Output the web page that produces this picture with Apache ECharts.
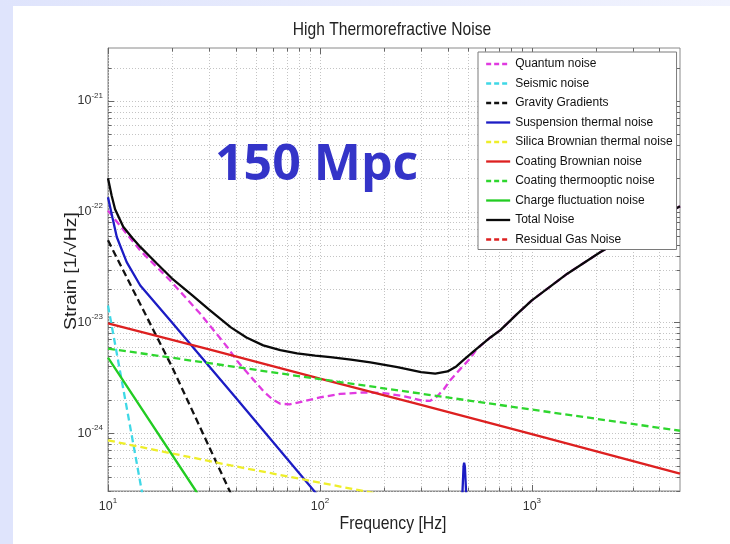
<!DOCTYPE html>
<html><head><meta charset="utf-8">
<script src="https://cdn.jsdelivr.net/npm/echarts@6/dist/echarts.min.js"></script>
<style>html,body{margin:0;padding:0;background:#fff}#c{width:730px;height:544px}</style>
</head><body><div id="c"></div>
<script>
// ---------- data ----------
const seriesNames = ['Quantum noise','Seismic noise','Gravity Gradients','Suspension thermal noise',
  'Silica Brownian thermal noise','Coating Brownian noise','Coating thermooptic noise',
  'Charge fluctuation noise','Total Noise','Residual Gas Noise'];

const quantumFreq   = [10, 12, 14.2, 19.6, 27.2, 36.5, 41, 54, 60, 65, 72, 85, 100, 125, 160, 200, 250, 300, 330, 358, 385, 412, 460, 513, 550, 637, 710, 855, 1000, 1470, 2100, 3250, 5000];
const quantumStrain = [1.02e-22, 6.6e-23, 4.45e-23, 2.4e-23, 1.2e-23, 6.0e-24, 4.4e-24, 2.4e-24, 2.0e-24, 1.84e-24, 1.82e-24, 1.95e-24, 2.1e-24, 2.26e-24, 2.33e-24, 2.3e-24, 2.15e-24, 1.97e-24, 1.95e-24, 2.15e-24, 2.5e-24, 3.0e-24, 3.8e-24, 4.75e-24, 5.75e-24, 7.3e-24, 8.5e-24, 1.2e-23, 1.58e-23, 2.75e-23, 4.3e-23, 7.0e-23, 1.12e-22];

const seismicFreq   = [10, 12.4, 15];
const seismicStrain = [1.42e-23, 1.5e-24, 2.0e-25];

const gravityFreq   = [10, 20, 40];
const gravityStrain = [5.5e-23, 4.0e-24, 2.3e-25];

const suspensionFreq   = [10, 10.5, 11, 12.25, 14.2, 20, 40, 100, 450, 470, 476, 479, 483, 490, 510];
const suspensionStrain = [1.35e-22, 8.8e-23, 5.9e-23, 3.5e-23, 2.15e-23, 1.0e-23, 2.1e-24, 2.6e-25, 1e-26, 2.8e-25, 5.0e-25, 5.4e-25, 5.0e-25, 2.8e-25, 1e-26];

const silicaFreq   = [10, 38, 160, 1000];
const silicaStrain = [8.6e-25, 5.1e-25, 3.0e-25, 1.5e-25];

const coatBrownFreq   = [10, 30, 100, 300, 1000, 5000];
const coatBrownStrain = [9.8e-24, 5.7e-24, 3.1e-24, 1.8e-24, 9.8e-25, 4.3e-25];

const coatThermoFreq   = [10, 100, 1000, 5000];
const coatThermoStrain = [5.8e-24, 3.07e-24, 1.63e-24, 1.05e-24];

const chargeFreq   = [10, 26, 30];
const chargeStrain = [4.8e-24, 3.0e-25, 1.9e-25];

const totalFreq   = [10, 10.4, 10.8, 11.8, 13, 14.2, 17, 20, 25, 30, 38, 45, 54, 65, 78, 95, 112, 140, 173, 232, 300, 350, 400, 440, 475, 550, 637, 710, 855, 1000, 1470, 2100, 3250, 5000];
const totalStrain = [2.0e-22, 1.4e-22, 1.05e-22, 7.3e-23, 5.8e-23, 4.8e-23, 3.4e-23, 2.5e-23, 1.75e-23, 1.3e-23, 9.0e-24, 7.3e-24, 6.2e-24, 5.6e-24, 5.25e-24, 5.0e-24, 4.85e-24, 4.6e-24, 4.35e-24, 3.95e-24, 3.55e-24, 3.45e-24, 3.6e-24, 4.0e-24, 4.55e-24, 5.8e-24, 7.3e-24, 8.5e-24, 1.2e-23, 1.58e-23, 2.75e-23, 4.3e-23, 7.0e-23, 1.12e-22];

const residualGasFreq   = [];
const residualGasStrain = [];

// axis ticks
const xMajorTicks = [10, 100, 1000];
const xMinorTicks = [20, 30, 40, 50, 60, 70, 80, 90, 200, 300, 400, 500, 600, 700, 800, 900, 2000, 3000, 4000];
const yMajorTicks = [1e-24, 1e-23, 1e-22, 1e-21];
const yMinorTicks = [3e-25, 4e-25, 5e-25, 6e-25, 7e-25, 8e-25, 9e-25,
  2e-24, 3e-24, 4e-24, 5e-24, 6e-24, 7e-24, 8e-24, 9e-24,
  2e-23, 3e-23, 4e-23, 5e-23, 6e-23, 7e-23, 8e-23, 9e-23,
  2e-22, 3e-22, 4e-22, 5e-22, 6e-22, 7e-22, 8e-22, 9e-22, 2e-21];

const chartTitle = 'High Thermorefractive Noise';
const annotation = '150 Mpc';
const xName = 'Frequency [Hz]';
const yName = 'Strain [1/\u221AHz]';

// ---------- chart ----------
const FONT = 'Liberation Sans';
const zip = (f, s) => f.map((v, i) => [v, s[i]]);
const styles = [
  {c:'#e03ae0', d:true}, {c:'#3fd8e6', d:true}, {c:'#111111', d:true}, {c:'#1c1cc4', d:false},
  {c:'#eeee2a', d:true}, {c:'#dd2020', d:false}, {c:'#2ed62e', d:true}, {c:'#22cc22', d:false},
  {c:'#0a0a0a', d:false}, {c:'#dd2020', d:true}
];
const dataSets = [
  zip(quantumFreq, quantumStrain), zip(seismicFreq, seismicStrain), zip(gravityFreq, gravityStrain),
  zip(suspensionFreq, suspensionStrain), zip(silicaFreq, silicaStrain), zip(coatBrownFreq, coatBrownStrain),
  zip(coatThermoFreq, coatThermoStrain), zip(chargeFreq, chargeStrain), zip(totalFreq, totalStrain),
  zip(residualGasFreq, residualGasStrain)
];
const lineSeries = seriesNames.map((n, i) => ({
  name: n, type: 'line', data: dataSets[i], symbol: 'none', smooth: false, clip: true, z: 3,
  lineStyle: { color: styles[i].c, width: 2.3, type: styles[i].d ? [7, 4] : 'solid' },
  itemStyle: { color: styles[i].c },
  emphasis: { disabled: true }
}));

const xMin = 10, xMax = 5000, yMin = 3e-25, yMax = 3e-21;
const tickItems = [];
xMajorTicks.forEach(v => tickItems.push([v, 1e-22, 0, 1]));
xMinorTicks.forEach(v => tickItems.push([v, 1e-22, 0, 0]));
yMajorTicks.forEach(v => tickItems.push([100, v, 1, 1]));
yMinorTicks.forEach(v => tickItems.push([100, v, 1, 0]));

const gridSeries = {
  type: 'custom', silent: true, z: 1, data: tickItems,
  renderItem: function (params, api) {
    const cs = params.coordSys;
    const p = api.coord([api.value(0), api.value(1)]);
    const vertical = api.value(2) === 0;
    const len = api.value(3) === 1 ? 6 : 3.5;
    const gs = { stroke: '#c4c4c4', lineWidth: 1, lineDash: [1, 2] };
    const ts = { stroke: '#666', lineWidth: 1 };
    if (vertical) {
      const x = Math.round(p[0]) + 0.5, t = cs.y, b = cs.y + cs.height;
      return { type: 'group', children: [
        { type: 'line', shape: { x1: x, y1: t, x2: x, y2: b }, style: gs },
        { type: 'line', shape: { x1: x, y1: b, x2: x, y2: b - len }, style: ts },
        { type: 'line', shape: { x1: x, y1: t, x2: x, y2: t + len }, style: ts }
      ]};
    } else {
      const y = Math.round(p[1]) + 0.5, l = cs.x, r = cs.x + cs.width;
      return { type: 'group', children: [
        { type: 'line', shape: { x1: l, y1: y, x2: r, y2: y }, style: gs },
        { type: 'line', shape: { x1: l, y1: y, x2: l + len, y2: y }, style: ts },
        { type: 'line', shape: { x1: r, y1: y, x2: r - len, y2: y }, style: ts }
      ]};
    }
  }
};

function powLabel(v) {
  const e = Math.log10(v), r = Math.round(e);
  if (Math.abs(e - r) > 1e-6) return '';
  return '{b|10}{s|' + r + '}';
}
const labelRich = {
  b: { fontSize: 12.5, fontFamily: FONT, color: '#333', lineHeight: 19 },
  s: { fontSize: 8, fontFamily: FONT, color: '#333', verticalAlign: 'top', lineHeight: 9 }
};

const legendData = seriesNames.map((n, i) => ({
  name: n,
  lineStyle: { type: styles[i].d ? [5, 3] : 'solid', width: 2.3 },
  itemStyle: { color: 'rgba(0,0,0,0)', borderColor: 'rgba(0,0,0,0)', borderWidth: 0, opacity: 0 }
}));

const option = {
  animation: false,
  backgroundColor: '#ffffff',
  graphic: [
    { type: 'rect', shape: { x: 0, y: 0, width: 13, height: 544 }, style: { fill: '#dfe4fc' }, z: -1 },
    { type: 'rect', shape: { x: 0, y: 0, width: 730, height: 6 }, style: { fill: new echarts.graphic.LinearGradient(0, 0, 1, 0, [{offset: 0, color: '#dfe4fc'}, {offset: 1, color: '#f1f3fe'}]) }, z: -1 },
    { type: 'text', x: 392, y: 30, scaleX: 0.82, style: { text: chartTitle, font: '19px "Liberation Sans"', fill: '#222', align: 'center', verticalAlign: 'middle', textAlign: 'center', textVerticalAlign: 'middle' } },
    { type: 'text', x: 393, y: 524, scaleX: 0.83, style: { text: xName, font: '19px "Liberation Sans"', fill: '#222', align: 'center', verticalAlign: 'middle', textAlign: 'center', textVerticalAlign: 'middle' } },
    { type: 'text', x: 72, y: 271, rotation: Math.PI / 2, scaleY: 0.8, style: { text: yName, font: '19.5px "Liberation Sans"', fill: '#222', align: 'center', verticalAlign: 'middle', textAlign: 'center', textVerticalAlign: 'middle' } },
    { type: 'text', x: 215, y: 166, z: 5, style: { text: annotation, font: 'bold 50px "Open Sans"', fill: '#3434c8', align: 'left', verticalAlign: 'middle', textAlign: 'left', textVerticalAlign: 'middle' } }
  ],
  grid: { left: 108, top: 48, right: 50, bottom: 53, show: true, borderColor: '#8a8a8a', borderWidth: 1, backgroundColor: '#fff' },
  legend: {
    orient: 'vertical', left: 478, top: 52, itemWidth: 24, itemHeight: 14, itemGap: 7.5,
    backgroundColor: '#fff', borderColor: '#7a7a7a', borderWidth: 1, padding: [6, 4, 4, 7],
    textStyle: { fontFamily: FONT, fontSize: 12, color: '#111' },
    data: legendData, selectedMode: false, z: 10
  },
  xAxis: {
    type: 'log', logBase: 10, min: xMin, max: xMax,
    axisLine: { show: true, lineStyle: { color: '#8a8a8a' } },
    axisTick: { show: false }, splitLine: { show: false },
    axisLabel: { formatter: powLabel, rich: labelRich, margin: 6, showMaxLabel: false }
  },
  yAxis: {
    type: 'log', logBase: 10, min: yMin, max: yMax,
    axisLine: { show: true, lineStyle: { color: '#8a8a8a' } },
    axisTick: { show: false }, splitLine: { show: false },
    axisLabel: { formatter: powLabel, rich: labelRich, margin: 5, showMinLabel: false, showMaxLabel: false }
  },
  series: [gridSeries].concat(lineSeries)
};
const chart = echarts.init(document.getElementById('c'), null, { renderer: 'canvas' });
chart.setOption(option);
</script></body></html>
